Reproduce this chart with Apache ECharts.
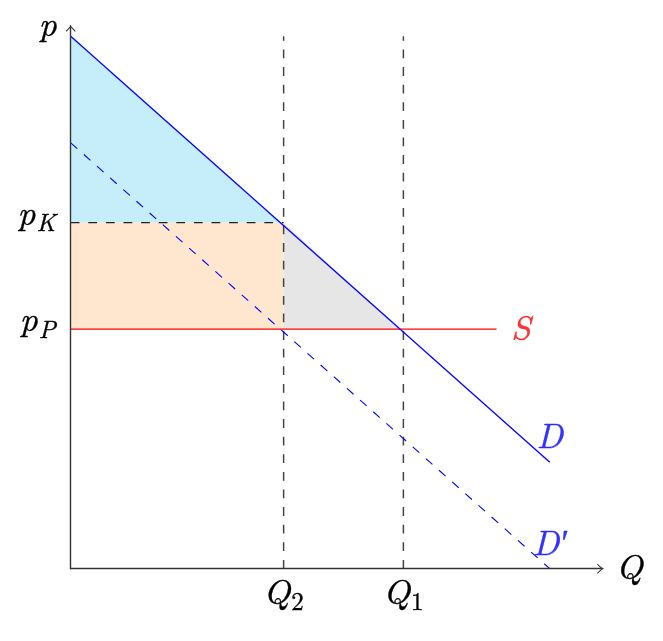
<!DOCTYPE html>
<html><head><meta charset="utf-8">
<script src="https://cdn.jsdelivr.net/npm/echarts@6/dist/echarts.min.js"></script>
<style>html,body{margin:0;padding:0;background:#fff}#c{width:663px;height:641px}</style>
</head><body><div id="c"></div>
<script>
// ---- data ----
const demandD   = [[0, 10], [9, 2]];
const demandD2  = [[0, 8], [9, 0]];
const supplyS   = [[0, 4.5], [8, 4.5]];
const qLine2    = [[4, 0], [4, 10]];
const qLine1    = [[6.25, 0], [6.25, 10]];
const pKLine    = [[0, 6.5], [4, 6.5]];
const blueArea   = [[0, 10], [3.94, 6.5], [0, 6.5]];
const orangeArea = [[0, 6.5], [4, 6.5], [4, 4.5], [0, 4.5]];
const grayArea   = [[4, 6.5], [4, 4.5], [6.19, 4.5]];
const xTickValues = [4, 6.25];
const xTickSubs   = ['2', '1'];
const yTickValues = [4.5, 6.5];
const yTickSubs   = ['P', 'K'];
const curveNames  = ['S', 'D', 'D\u2032'];

const FONT = 'Latin Modern Roman';
const arrowPath = 'path://M5,0L10,5.4L9.2,6L5,1.6L0.8,6L0,5.4Z';
const DASH = [8.8, 8.8];

function polySeries(points, color) {
  return {
    type: 'custom', z: 1, silent: true, clip: false, animation: false,
    data: [[0, 0]],
    renderItem: (params, api) => ({
      type: 'polygon',
      shape: { points: points.map(p => api.coord(p)) },
      style: { fill: color }
    })
  };
}
function lineSeries(data, color, width, dashed, z) {
  return {
    type: 'line', data, symbol: 'none', silent: true, z: z || 3, animation: false,
    lineStyle: { color, width, type: dashed ? DASH : 'solid' }
  };
}
const ink = c => ({ color: c, textBorderColor: c, textBorderWidth: 0.35 });
const richMain = Object.assign({ fontFamily: FONT, fontStyle: 'italic', fontSize: 35, verticalAlign: 'top' }, ink('#000'));
const rich = {
  m: richMain,
  d: Object.assign({ fontFamily: FONT, fontSize: 25, verticalAlign: 'top', padding: [14.5, 0, 0, 1] }, ink('#000')),
  i: Object.assign({ fontFamily: FONT, fontStyle: 'italic', fontSize: 25, verticalAlign: 'top', padding: [14.5, 0, 0, 1] }, ink('#000'))
};

const chart = echarts.init(document.getElementById('c'), null, { renderer: 'canvas' });
chart.setOption({
  animation: false,
  backgroundColor: '#fff',
  textStyle: { fontFamily: FONT },
  grid: { left: 70.7, right: 60, top: 25.7, bottom: 72.3, containLabel: false },
  xAxis: {
    type: 'value', min: 0, max: 10, z: 5,
    axisLine: { onZero: false, lineStyle: { color: '#333', width: 1.4 },
      symbol: ['none', arrowPath], symbolSize: [10, 6], symbolOffset: [0, -3] },
    axisTick: { show: false }, splitLine: { show: false },
    axisLabel: {
      customValues: xTickValues, margin: 7, fontFamily: FONT,
      formatter: v => '{m|Q}{d|' + xTickSubs[xTickValues.indexOf(v)] + '}',
      rich
    },
    name: 'Q', nameLocation: 'end', nameGap: 13,
    nameTextStyle: Object.assign({ fontFamily: FONT, fontStyle: 'italic', fontSize: 35, padding: [0, 0, 15, 0] }, ink('#000'))
  },
  yAxis: {
    type: 'value', min: 0, max: 10.2, z: 5,
    axisLine: { onZero: false, lineStyle: { color: '#333', width: 1.4 },
      symbol: ['none', arrowPath], symbolSize: [10, 6], symbolOffset: [0, -3] },
    axisTick: { show: false }, splitLine: { show: false },
    axisLabel: {
      customValues: yTickValues, margin: 15, padding: [0, 0, 13, 0], fontFamily: FONT,
      formatter: v => '{m|p}{i|' + yTickSubs[yTickValues.indexOf(v)] + '}',
      rich
    },
    name: 'p', nameLocation: 'end', nameGap: 0,
    nameTextStyle: Object.assign({ fontFamily: FONT, fontStyle: 'italic', fontSize: 35,
      align: 'right', verticalAlign: 'middle', padding: [0, 14, 33, 0] }, ink('#000'))
  },
  series: [
    polySeries(blueArea, '#c6eefa'),
    polySeries(orangeArea, '#ffe6cf'),
    polySeries(grayArea, '#e6e6e6'),
    lineSeries(qLine2, '#444', 1.5, true),
    lineSeries(qLine1, '#444', 1.5, true),
    lineSeries(pKLine, '#222', 1.3, true),
    lineSeries(supplyS, '#ff0000', 1.1, false, 4),
    lineSeries(demandD2, '#0000ff', 1.1, true, 4),
    lineSeries(demandD, '#0000ff', 1.3, false, 4),
    {
      type: 'scatter', z: 6, silent: true, animation: false, symbolSize: 1,
      itemStyle: { color: 'rgba(0,0,0,0)' },
      data: [
        { value: supplyS[supplyS.length - 1], label: Object.assign({ show: true, formatter: curveNames[0], position: 'right', distance: 14 }, ink('#ff0000')) },
        { value: demandD[demandD.length - 1], label: Object.assign({ show: true, formatter: curveNames[1], position: 'top', distance: 7 }, ink('#0000ff')) },
        { value: demandD2[demandD2.length - 1], label: Object.assign({ show: true, formatter: curveNames[2], position: 'top', distance: 6.5 }, ink('#0000ff')) }
      ],
      label: { fontFamily: FONT, fontStyle: 'italic', fontSize: 35 }
    }
  ]
});
</script>
</body></html>
